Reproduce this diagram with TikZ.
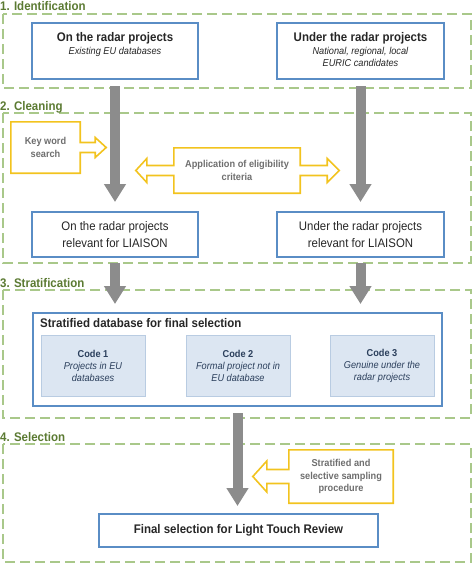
\documentclass[tikz,border=0pt]{standalone}
\usepackage{fontspec}
\setmainfont[FakeStretch=0.92]{Liberation Sans}
\usetikzlibrary{arrows.meta,positioning,calc}
\definecolor{framegreen}{HTML}{A9C88A}
\definecolor{labelgreen}{HTML}{5B7A32}
\definecolor{boxblue}{HTML}{5A8DC5}
\definecolor{arrowgray}{HTML}{8C8C8C}
\definecolor{callyellow}{HTML}{F2C31E}
\definecolor{callgray}{HTML}{6E6E6E}
\definecolor{codefill}{HTML}{DCE6F2}
\definecolor{codeedge}{HTML}{B9CCE2}
\definecolor{codetext}{HTML}{2B3F5C}
\definecolor{textdark}{HTML}{262626}
\begin{document}
\begin{tikzpicture}[x=1pt, y=-1pt,
  secframe/.style={draw=framegreen, line width=2.5pt, dash pattern=on 10pt off 5pt},
  seclabel/.style={anchor=base west, inner sep=0pt, text=labelgreen, font=\bfseries\fontsize{12.5}{15}\selectfont},
  bluebox/.style={draw=boxblue, line width=2pt, inner sep=0pt, align=center, text=textdark},
  boxtext/.style={inner sep=0pt, align=center, text=textdark, font=\fontsize{10}{12}\selectfont},
  relbox/.style={bluebox, minimum width=166pt, minimum height=45pt, font=\fontsize{12.4}{17}\selectfont},
  codebox/.style={draw=codeedge, fill=codefill, line width=1pt, minimum width=104pt, minimum height=61pt, align=center, text=codetext, font=\fontsize{10}{12}\selectfont},
  callout/.style={inner sep=0pt, align=center, text=callgray, font=\bfseries\fontsize{10}{12.5}\selectfont},
  calloutline/.style={draw=callyellow, line width=1.6pt, line join=miter},
  grayarrow/.style={draw=arrowgray, line width=10pt, -{Triangle[length=18pt,width=21pt]}}]
\useasboundingbox (0,0) rectangle (474,563);
\draw[secframe] (3,14) rectangle (471,88);
\draw[secframe] (3,113) rectangle (471,263);
\draw[secframe] (3,290) rectangle (471,418);
\draw[secframe] (3,444) rectangle (471,562);
\node[seclabel] (identlabel) at (0,10) {1. Identification};
\node[seclabel] (cleanlabel) at (0,110) {2. Cleaning};
\node[seclabel] (stratlabel) at (0,287) {3. Stratification};
\node[seclabel] (selectlabel) at (0,441) {4. Selection};
\node[bluebox, minimum width=166pt, minimum height=56pt] (onradar) at (115,51) {};
\node[boxtext, below=10pt of onradar.north] (onradartext) {{\bfseries\fontsize{12.5}{15}\selectfont On the radar projects}\\[1pt] \textit{Existing EU databases}};
\node[bluebox, minimum width=167pt, minimum height=56pt] (underradar) at (360.5,51) {};
\node[boxtext, below=10pt of underradar.north] (underradartext) {{\bfseries\fontsize{12.5}{15}\selectfont Under the radar projects}\\[1pt] \textit{National, regional, local}\\ \textit{EURIC candidates}};
\node[relbox] (onrel) at (115,234.5) {On the radar projects\\ relevant for LIAISON};
\node[relbox, minimum width=167pt] (underrel) at (360.5,234.5) {Under the radar projects\\ relevant for LIAISON};
\node[bluebox, minimum width=409pt, minimum height=93pt] (strat) at (237.5,359.5) {};
\node[anchor=west, inner sep=0pt, text=textdark, font=\bfseries\fontsize{12.5}{15}\selectfont] (strattitle) at (40,323) {Stratified database for final selection};
\node[codebox] (code1) at (93,365.5) {\textbf{Code 1}\\ \textit{Projects in EU}\\ \textit{databases}};
\node[codebox] (code2) at (238,365.5) {\textbf{Code 2}\\ \textit{Formal project not in}\\ \textit{EU database}};
\node[codebox] (code3) at (382,365.5) {\textbf{Code 3}\\ \textit{Genuine under the}\\ \textit{radar projects}};
\node[bluebox, minimum width=279pt, minimum height=33pt, font=\bfseries\fontsize{12.5}{15}\selectfont] (final) at (238.5,530.5) {Final selection for Light Touch Review};
\node[callout, minimum width=69pt, minimum height=51pt] (keyword) at (45.5,147.5) {Key word\\ search};
\node[callout, minimum width=126pt, minimum height=45pt] (eligibility) at (237,170.5) {Application of eligibility\\ criteria};
\node[callout, minimum width=104pt, minimum height=53pt] (sampling) at (341,476.5) {Stratified and\\ selective sampling\\ procedure};
\draw[calloutline] (keyword.north west) -| ($(keyword.east)+(0,-5)$) -- ++(15,0) -- ++(0,-5) -- ++(11,10) -- ++(-11,10) -- ++(0,-5) -- ++(-15,0) |- (keyword.south west) -- cycle;
\draw[calloutline] (eligibility.north west) -| ($(eligibility.east)+(0,-5)$) -- ++(27,0) -- ++(0,-7) -- ++(12,12) -- ++(-12,12) -- ++(0,-7) -- ++(-27,0) |- (eligibility.south west) -- ($(eligibility.west)+(0,5)$) -- ++(-27,0) -- ++(0,7) -- ++(-11,-12) -- ++(11,-12) -- ++(0,7) -- ++(27,0) -- cycle;
\draw[calloutline] (sampling.north west) -- (sampling.north east) -- (sampling.south east) -- (sampling.south west) -- ($(sampling.west)+(0,7)$) -- ++(-22,0) -- ++(0,8.5) -- ++(-14,-15.5) -- ++(14,-15.5) -- ++(0,8.5) -- ++(22,0) -- cycle;
\draw[grayarrow, shorten <=6pt, shorten >=9pt] (onradar) -- (onrel);
\draw[grayarrow, shorten <=6pt, shorten >=9pt] (underradar) -- (underrel);
\draw[grayarrow, shorten <=5pt, shorten >=8pt] (onrel.south) -- (onrel.south |- strat.north);
\draw[grayarrow, shorten <=5pt, shorten >=8pt] (underrel.south) -- (underrel.south |- strat.north);
\draw[grayarrow, shorten <=6pt, shorten >=7pt] (strat.south) -- (strat.south |- final.north);
\end{tikzpicture}
\end{document}
